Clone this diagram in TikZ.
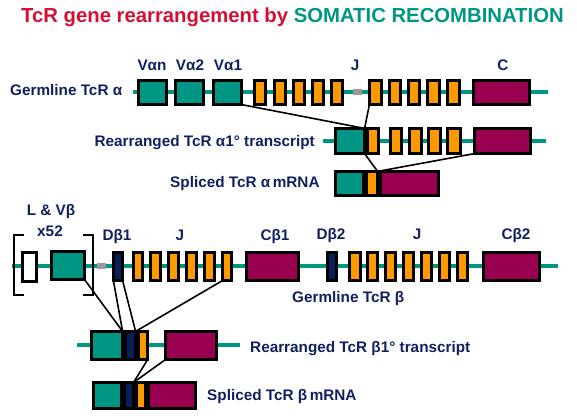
\documentclass[tikz,border=0pt]{standalone}
\usepackage{fontspec}
\setmainfont{Liberation Sans}
\definecolor{tealc}{RGB}{0,150,132}
\definecolor{orangec}{RGB}{255,153,0}
\definecolor{purplec}{RGB}{153,0,80}
\definecolor{navyc}{RGB}{10,30,90}
\definecolor{labc}{RGB}{16,32,96}
\definecolor{redc}{RGB}{210,16,52}
\newcommand\segbox[6]{%
  \node[#1, minimum width={(#4-#3-2.8)*1pt}, minimum height={(#6-#5-2.8)*1pt}] (#2) at ({(#3+#4)/2},{(#5+#6)/2}) {};}
\begin{document}
\begin{tikzpicture}[x=1pt,y=-1pt,
  backbone/.style={tealc,line width=4pt},
  seg/.style={draw=black,line width=2.8pt,inner sep=0pt,outer sep=0pt,rectangle},
  vseg/.style={seg,fill=tealc},
  jseg/.style={seg,fill=orangec},
  cseg/.style={seg,fill=purplec},
  dseg/.style={seg,fill=navyc},
  lseg/.style={seg,fill=white},
  gapseg/.style={fill=black!40,inner sep=0pt,minimum width=9pt,minimum height=6pt},
  lab/.style={text=labc,font=\fontsize{15.3}{17}\selectfont\bfseries,inner sep=0pt},
  link/.style={black,line width=1.6pt},
  brk/.style={black,line width=2pt}]
\useasboundingbox (0,0) rectangle (577,415);

% title
\node[anchor=base west,inner sep=0pt,font=\fontsize{20.3}{24}\selectfont\bfseries] (title) at (21,22)
  {\textcolor{redc}{TcR gene rearrangement by} \textcolor{tealc}{SOMATIC RECOMBINATION}};

% ---------- alpha germline ----------
\coordinate (aL) at (133,92); \coordinate (aR) at (548,92);
\draw[backbone] (aL) -- (aR);
\node[gapseg] (gapa) at (357.5,92) {};
\segbox{vseg}{van}{137}{168}{79}{106}
\segbox{vseg}{vatwo}{174}{205}{79}{106}
\segbox{vseg}{vaone}{212}{243}{79}{106}
\segbox{jseg}{jaA}{253}{267}{79}{106}
\segbox{jseg}{jaB}{273}{287}{79}{106}
\segbox{jseg}{jaC}{292}{306}{79}{106}
\segbox{jseg}{jaD}{311}{325}{79}{106}
\segbox{jseg}{jaE}{330}{344}{79}{106}
\segbox{jseg}{jaF}{368}{383}{79}{106}
\segbox{jseg}{jaG}{388}{402}{79}{106}
\segbox{jseg}{jaH}{407}{421}{79}{106}
\segbox{jseg}{jaI}{426}{441}{79}{106}
\segbox{jseg}{jaJ}{446}{461}{79}{106}
\segbox{cseg}{ca}{472}{531}{79}{106}
\node[lab,anchor=base] (lvan) at (152,70) {Vαn};
\node[lab,anchor=base] (lvatwo) at (190,70) {Vα2};
\node[lab,anchor=base] (lvaone) at (228,70) {Vα1};
\node[lab,anchor=base] (lja) at (355,70) {J};
\node[lab,anchor=base] (lca) at (503,70) {C};
\node[lab,anchor=base west] (lgla) at (10,95) {Germline TcR α};

% ---------- alpha rearranged ----------
\coordinate (raL) at (323,141); \coordinate (raR) at (546,141);
\draw[backbone] (raL) -- (raR);
\segbox{vseg}{rat}{334}{366}{127}{155}
\segbox{jseg}{rao}{366}{380}{127}{155}
\segbox{jseg}{raA}{389}{403}{127}{155}
\segbox{jseg}{raB}{408}{423}{127}{155}
\segbox{jseg}{raC}{427}{442}{127}{155}
\segbox{jseg}{raD}{446}{462}{127}{155}
\segbox{cseg}{rac}{473}{532}{127}{155}
\node[lab,anchor=base east] (lra) at (315,146) {Rearranged TcR α1° transcript};

% ---------- alpha spliced ----------
\segbox{vseg}{sat}{334}{365}{170}{197}
\segbox{jseg}{sao}{365}{379}{170}{197}
\segbox{cseg}{sac}{379}{440}{170}{197}
\node[lab,anchor=base west] (lsa) at (170,187) {Spliced TcR α\,mRNA};

% alpha links
\draw[link] (vaone.south east) -- (rat.north east);
\draw[link] (jaF.south west) -- (rat.north east);
\draw[link] (rat.south east) -- (sao.north east);
\draw[link] (sao.north east) -- (rac.south west);

% ---------- beta germline ----------
\coordinate (bL) at (12,265.5); \coordinate (bR) at (558,265.5);
\draw[backbone] (bL) -- (bR);
\node[gapseg] (gapb) at (101,265.5) {};
\segbox{lseg}{lb}{21}{38}{251}{283}
\segbox{vseg}{vb}{50}{86}{250}{281}
\segbox{dseg}{dbone}{112}{124}{251}{282}
\segbox{jseg}{jbA}{132}{144}{251}{282}
\segbox{jseg}{jbB}{149}{162}{251}{282}
\segbox{jseg}{jbC}{167}{180}{251}{282}
\segbox{jseg}{jbD}{185}{198}{251}{282}
\segbox{jseg}{jbE}{203}{216}{251}{282}
\segbox{jseg}{jbF}{221}{233}{251}{282}
\segbox{cseg}{cbone}{245}{300}{251}{282}
\segbox{dseg}{dbtwo}{326}{338}{251}{282}
\segbox{jseg}{kbA}{348}{362}{251}{282}
\segbox{jseg}{kbB}{366}{379}{251}{282}
\segbox{jseg}{kbC}{384}{397}{251}{282}
\segbox{jseg}{kbD}{402}{415}{251}{282}
\segbox{jseg}{kbE}{420}{433}{251}{282}
\segbox{jseg}{kbF}{438}{451}{251}{282}
\segbox{jseg}{kbG}{456}{469}{251}{282}
\segbox{cseg}{cbtwo}{482}{541}{251}{282}
% brackets
\coordinate (bkA) at (24,235); \coordinate (bkB) at (14,295);
\coordinate (bkC) at (83,235); \coordinate (bkD) at (93,295);
\draw[brk] (bkA) -| (bkB) -- (bkB -| bkA);
\draw[brk] (bkC) -| (bkD) -- (bkD -| bkC);
\node[lab,anchor=base] (llv) at (51,215) {L \& Vβ};
\node[lab,anchor=base] (lx) at (50,236) {x52};
\node[lab,anchor=base] (ldbone) at (117,240) {Dβ1};
\node[lab,anchor=base] (ljb) at (180,240) {J};
\node[lab,anchor=base] (lcbone) at (275,240) {Cβ1};
\node[lab,anchor=base] (ldbtwo) at (331,239) {Dβ2};
\node[lab,anchor=base] (ljbtwo) at (417,239) {J};
\node[lab,anchor=base] (lcbtwo) at (516,239) {Cβ2};
\node[lab,anchor=base west] (lglb) at (292,302) {Germline TcR β};

% ---------- beta rearranged ----------
\coordinate (rbL) at (77,345); \coordinate (rbR) at (240,345);
\draw[backbone] (rbL) -- (rbR);
\segbox{vseg}{rbt}{90}{124}{330}{361}
\segbox{dseg}{rbn}{124}{137}{330}{361}
\segbox{jseg}{rbo}{137}{149}{330}{361}
\segbox{cseg}{rbc}{164}{218}{330}{361}
\node[lab,anchor=base west] (lrb) at (250,352) {Rearranged TcR β1° transcript};

% ---------- beta spliced ----------
\segbox{vseg}{sbt}{92}{123}{381}{410}
\segbox{dseg}{sbn}{123}{135}{381}{410}
\segbox{jseg}{sbo}{135}{147}{381}{410}
\segbox{cseg}{sbc}{147}{197}{381}{410}
\node[lab,anchor=base west] (lsb) at (207,400) {Spliced TcR β\,mRNA};

% beta links
\draw[link] (vb.south east) -- (rbt.north east);
\draw[link] (dbone.south west) -- (rbt.north east);
\draw[link] (dbone.south east) -- (rbn.north east);
\draw[link] (jbF.south west) -- (rbn.north east);
\draw[link] (rbo.south east) -- (sbn.north east);
\draw[link] (rbc.south west) -- (sbn.north east);
\end{tikzpicture}
\end{document}
